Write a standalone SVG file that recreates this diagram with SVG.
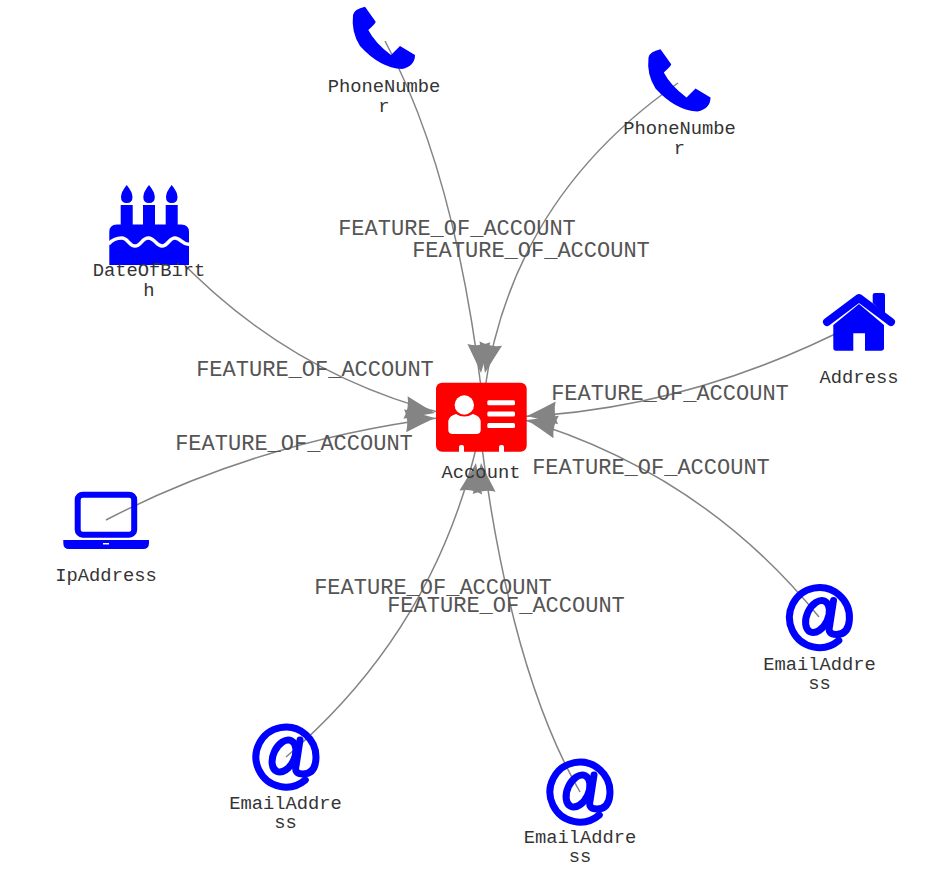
<svg xmlns="http://www.w3.org/2000/svg" xmlns:xlink="http://www.w3.org/1999/xlink" width="936" height="882" viewBox="0 0 936 882">
<style>
.e{fill:none;stroke:#848484;stroke-width:1.5}
.h{fill:#848484}
text{font-family:"Liberation Mono","Courier New",monospace;text-anchor:middle;fill:#343434}
.n{font-size:18.8px}
.l{font-size:22px;fill:#555}
.i{fill:#0000ff}
.at{fill:none;stroke:#0000ff;stroke-width:7;stroke-linecap:round;stroke-linejoin:round}
</style>
<defs>
<path id="head" d="M0 0Q-14 -5 -30 -11.500Q-26 0 -30 11.500Q-14 5 0 0Z"/>
<g id="at">
<path class="at" d="M19.300 23A30 30 0 1 1 29.900 2Q29 17 17 17Q8 17 10 9L14 -17"/>
<ellipse class="at" cx="-2" cy="-1" rx="10.500" ry="17" transform="rotate(25 -2 -1)"/>
</g>
<path id="phone" class="i" d="M365 6.700L375.700 21.700Q376 23 368.300 30Q375 43 391 55L400 46L415 55Q415 66 402 69Q380 68 360 46Q351 32 353 15Q354 9 365 6.700Z"/>
</defs>
<g id="connectors">
<path class="e" d="M385 41Q455 170 482 395"/>
<path class="e" d="M678 83Q510 200 484 395"/>
<path class="e" d="M149 226Q270 370 445 414"/>
<path class="e" d="M106 520Q260 440 445 417"/>
<path class="e" d="M859 322Q690 410 515 417"/>
<path class="e" d="M819 617Q700 470 515 417"/>
<path class="e" d="M286 757Q435 630 478 440"/>
<path class="e" d="M580 792Q510 670 481 440"/>
<g class="h">
<use xlink:href="#head" href="#head" transform="translate(481 373) rotate(86)"/>
<use xlink:href="#head" href="#head" transform="translate(485 373) rotate(101)"/>
<use xlink:href="#head" href="#head" transform="translate(435 413) rotate(10.500)"/>
<use xlink:href="#head" href="#head" transform="translate(435 418) rotate(-5.300)"/>
<use xlink:href="#head" href="#head" transform="translate(527 416) rotate(174)"/>
<use xlink:href="#head" href="#head" transform="translate(527 420) rotate(-166.500)"/>
<use xlink:href="#head" href="#head" transform="translate(476 463) rotate(-80)"/>
<use xlink:href="#head" href="#head" transform="translate(481 463) rotate(-96)"/>
</g>
</g>
<g id="edge-labels">
<text class="l" x="457" y="235">FEATURE_OF_ACCOUNT</text>
<text class="l" x="531" y="257">FEATURE_OF_ACCOUNT</text>
<text class="l" x="315" y="376">FEATURE_OF_ACCOUNT</text>
<text class="l" x="294" y="450">FEATURE_OF_ACCOUNT</text>
<text class="l" x="670" y="400">FEATURE_OF_ACCOUNT</text>
<text class="l" x="651" y="474">FEATURE_OF_ACCOUNT</text>
<text class="l" x="433" y="594">FEATURE_OF_ACCOUNT</text>
<text class="l" x="506" y="612">FEATURE_OF_ACCOUNT</text>
</g>
<g id="account">
<rect x="436" y="382.700" width="90.700" height="69" rx="6" fill="#ff0000"/>
<g fill="#fff">
<circle cx="464.300" cy="405" r="9.700"/>
<path d="M448.300 421Q449 416 456 414Q464 419 473 414Q480 416 480.700 421V430Q480.700 434 476 434H453Q448.300 434 448.300 430Z"/>
<rect x="487.300" y="400.300" width="27.700" height="5" rx="1.500"/>
<rect x="487.300" y="411.500" width="27.700" height="5" rx="1.500"/>
<rect x="487.300" y="423" width="27.700" height="5" rx="1.500"/>
<path d="M459 452V447Q459 445 461 445H462Q464 445 464 447V452ZM499 452V447Q499 445 501 445H502Q504 445 504 447V452Z"/>
</g>
<text class="n" x="481" y="478">Account</text>
</g>
<g id="phone1">
<use xlink:href="#phone" href="#phone"/>
<text class="n" x="384" y="92">PhoneNumbe</text>
<text class="n" x="384" y="112">r</text>
</g>
<g id="phone2">
<use xlink:href="#phone" href="#phone" transform="translate(295.500 42.500)"/>
<text class="n" x="679.500" y="134">PhoneNumbe</text>
<text class="n" x="679.500" y="154">r</text>
</g>
<g id="dob">
<g class="i">
<path d="M126.700 185Q132.500 192 132.500 197Q132.500 203 126.700 203Q121 203 121 197Q121 192 126.700 185ZM149 185Q154.800 192 154.800 197Q154.800 203 149 203Q143.300 203 143.300 197Q143.300 192 149 185ZM171.700 185Q177.500 192 177.500 197Q177.500 203 171.700 203Q166 203 166 197Q166 192 171.700 185Z"/>
<rect x="120.700" y="205" width="12" height="22"/>
<rect x="143" y="205" width="12" height="22"/>
<rect x="165.700" y="205" width="12" height="22"/>
<path d="M109.300 265V232Q109.300 224.500 117 224.500H181Q189 224.500 189 232V265Z"/>
</g>
<path d="M108.500 244C113 239 117 238 121.700 238C128 238 129 246 135 246C141 246 142 238 148.300 238C155 238 156 246 162 246C168 246 169 238 175 238C181 238 183 246 190 244" fill="none" stroke="#fff" stroke-width="3.500"/>
<text class="n" x="149" y="276">DateOfBirt</text>
<text class="n" x="149" y="296">h</text>
</g>
<g id="ip">
<rect x="77.700" y="494.700" width="56.500" height="40" rx="5" fill="none" stroke="#0000ff" stroke-width="6"/>
<path class="i" d="M63.300 540H149V543Q149 549 143 549H69Q63.300 549 63.300 543Z"/>
<rect x="103" y="543" width="6" height="1.500" fill="#fff"/>
<text class="n" x="106" y="581">IpAddress</text>
</g>
<g id="address">
<path d="M827 322L859 298L891 322" fill="none" stroke="#0000ff" stroke-width="8" stroke-linecap="round" stroke-linejoin="round"/>
<path class="i" d="M872.700 295Q872.700 293 875 293H883Q885 293 885 295V314L872.700 303ZM859 304L884 325V348Q884 350.700 881 350.700H865V333.300H853.300V350.700H836Q833.300 350.700 833.300 348V325Z"/>
<text class="n" x="859" y="383">Address</text>
</g>
<g id="email1">
<use xlink:href="#at" href="#at" transform="translate(819.500 617.500)"/>
<text class="n" x="819.500" y="670">EmailAddre</text>
<text class="n" x="819.500" y="689">ss</text>
</g>
<g id="email2">
<use xlink:href="#at" href="#at" transform="translate(286 757)"/>
<text class="n" x="285.500" y="809">EmailAddre</text>
<text class="n" x="285.500" y="828">ss</text>
</g>
<g id="email3">
<use xlink:href="#at" href="#at" transform="translate(580 792)"/>
<text class="n" x="580" y="843">EmailAddre</text>
<text class="n" x="580" y="862">ss</text>
</g>
</svg>
